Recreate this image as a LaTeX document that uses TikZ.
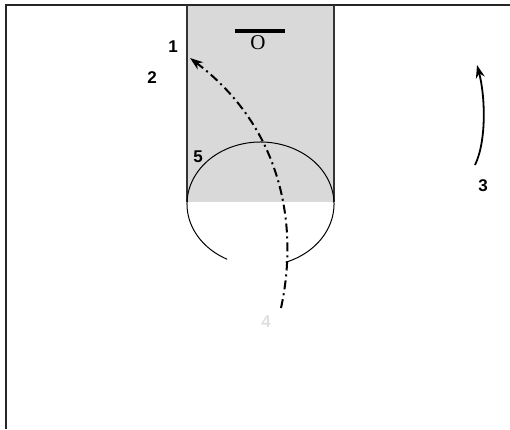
\documentclass[tikz,border=0pt]{standalone}
\usepackage{fontspec}
\setmainfont{Liberation Sans}
\newfontfamily\serifO{Liberation Serif}
\usetikzlibrary{arrows.meta}
\tikzset{
  lbl/.style={font=\fontsize{17}{17}\selectfont\bfseries, inner sep=0pt},
  frame/.style={line width=2pt, black!85},
  lane/.style={line width=1.3pt, black!80},
  dashdot/.style={line width=2pt, dash pattern=on 9pt off 4pt on 2pt off 4pt},
  tip/.style={-{Stealth[length=13pt,width=9pt]}}
}
\begin{document}
\begin{tikzpicture}[x=1pt,y=1pt]
\useasboundingbox (0,0) rectangle (510,-429);
% lane shading
\fill[gray!30] (187,-5) rectangle (334,-202);
% frame
\draw[frame] (510,-5) -- (6,-5) -- (6,-429);
% lane sides
\draw[lane] (187,-5) -- (187,-202);
\draw[lane] (334,-5) -- (334,-202);
% circle
\draw[line width=1pt] (260.5,-204) ++(290:73.5 and 62) arc[start angle=290, end angle=603, x radius=73.5, y radius=62];
% basket bar and O
\draw[line width=4pt] (235,-31) -- (285,-31);
\node[inner sep=0pt, font=\serifO\fontsize{21}{21}\selectfont] (o) at (258,-43) {O};
% labels
\node[lbl] (l1) at (173,-47) {1};
\node[lbl] (l2) at (152,-78) {2};
\node[lbl] (l5) at (198,-157) {5};
\node[lbl] (l3) at (483,-186) {3};
\node[lbl, text=gray!25] (l4) at (266,-322) {4};
% coordinates for paths
\coordinate (s) at (281,-308);
\coordinate (e) at (190,-58);
\coordinate (s3) at (475,-165);
\coordinate (e3) at (477,-65);
% cut path
\draw[dashdot, tip] (s) .. controls (298,-230) and (285,-130) .. (e);
% arrow 3
\draw[line width=1.8pt, tip] (s3) .. controls (487,-140) and (485,-95) .. (e3);
\end{tikzpicture}
\end{document}
